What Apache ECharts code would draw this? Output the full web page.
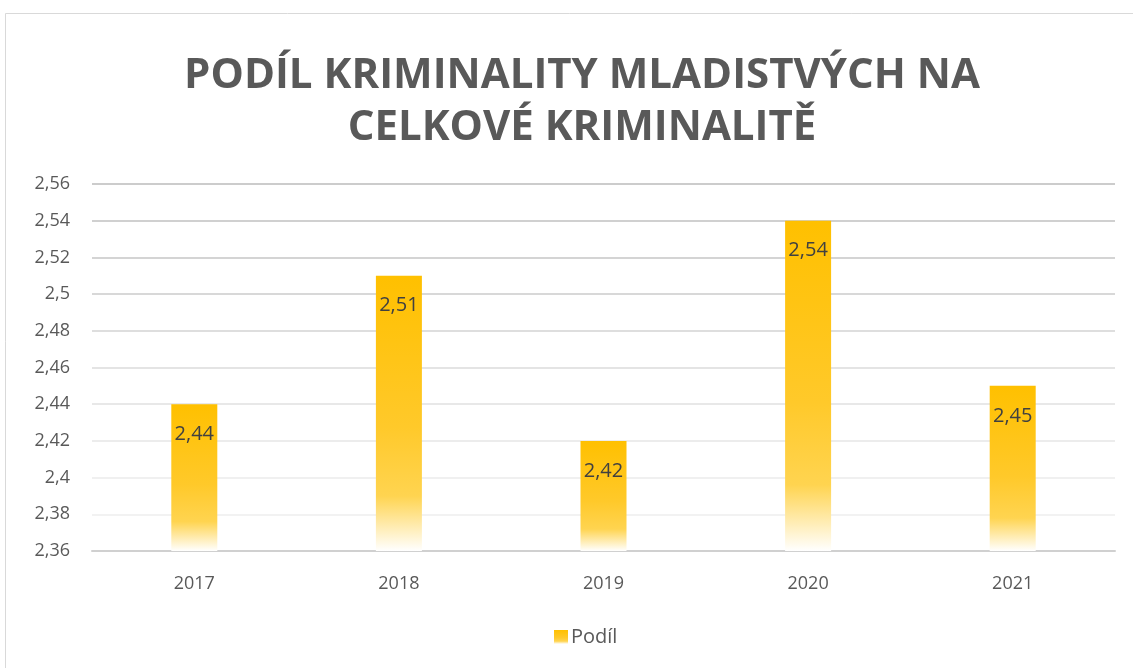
<!DOCTYPE html>
<html>
<head>
<meta charset="utf-8">
<script src="https://cdn.jsdelivr.net/npm/echarts@6/dist/echarts.min.js"></script>
<style>
  html, body { margin: 0; padding: 0; background: #fff; }
  #container { width: 1133px; height: 668px; }
</style>
</head>
<body>
<div id="container"></div>
<script>
var years = ['2017', '2018', '2019', '2020', '2021'];
var podil = [2.44, 2.51, 2.42, 2.54, 2.45];
var yMin = 2.36, yMax = 2.56, yStep = 0.02;
// gridline colours from bottom to top (lines fade out downwards)
var gridColors = ['#d0d0d0', '#f2f2f2', '#f0f0f0', '#ececec', '#e8e8e8', '#e4e4e4', '#dedede', '#d8d8d8', '#d4d4d4', '#d0d0d0', '#cccccc'];

var dom = document.getElementById('container');
var myChart = echarts.init(dom, null, { renderer: 'canvas' });

var barFill = new echarts.graphic.LinearGradient(0, 0, 0, 1, [
    { offset: 0, color: '#FFC000' },
    { offset: 0.55, color: '#FFC92A' },
    { offset: 0.8, color: '#FFD450' },
    { offset: 1, color: '#FFFFFF' }
]);

var fmt = function (v) { return String(Math.round(v * 100) / 100).replace('.', ','); };

var option = {
    backgroundColor: '#ffffff',
    animation: false,
    graphic: [{
        type: 'rect',
        shape: { x: 5.5, y: 13.5, width: 1140, height: 700 },
        style: { fill: 'none', stroke: '#d9d9d9', lineWidth: 1 },
        silent: true
    }],
    title: {
        text: 'PODÍL KRIMINALITY MLADISTVÝCH NA\nCELKOVÉ KRIMINALITĚ',
        left: 577,
        textAlign: 'center',
        top: 45,
        textStyle: {
            fontFamily: 'Open Sans',
            fontWeight: 'bold',
            fontSize: 42,
            lineHeight: 52,
            color: '#595959'
        }
    },
    legend: {
        top: 622,
        left: 549,
        itemWidth: 14,
        itemHeight: 14,
        itemGap: 6,
        textStyle: { fontFamily: 'Open Sans', fontSize: 20, color: '#595959', padding: [0, 0, 0, -2] },
        data: [{ name: 'Podíl', icon: 'rect' }]
    },
    grid: { left: 92, right: 18, top: 184, bottom: 117 },
    xAxis: {
        type: 'category',
        data: years,
        axisTick: { show: false },
        axisLine: { lineStyle: { color: '#d0d0d0', width: 2 } },
        axisLabel: { fontFamily: 'Open Sans', fontSize: 18, color: '#595959', margin: 24 }
    },
    yAxis: {
        type: 'value',
        min: yMin,
        max: yMax,
        interval: yStep,
        axisLine: { show: false },
        axisTick: { show: false },
        axisLabel: {
            fontFamily: 'Open Sans', fontSize: 18, color: '#595959', margin: 22,
            formatter: fmt
        },
        splitLine: { lineStyle: { color: gridColors, width: 2 } }
    },
    series: [{
        name: 'Podíl',
        type: 'bar',
        data: podil,
        barWidth: 46,
        itemStyle: { color: barFill },
        label: {
            show: true,
            position: 'insideTop',
            distance: 20,
            fontFamily: 'Open Sans',
            fontSize: 20,
            color: '#404040',
            formatter: function (p) { return fmt(p.value); }
        }
    }]
};

myChart.setOption(option);
window.addEventListener('resize', myChart.resize);
</script>
</body>
</html>
